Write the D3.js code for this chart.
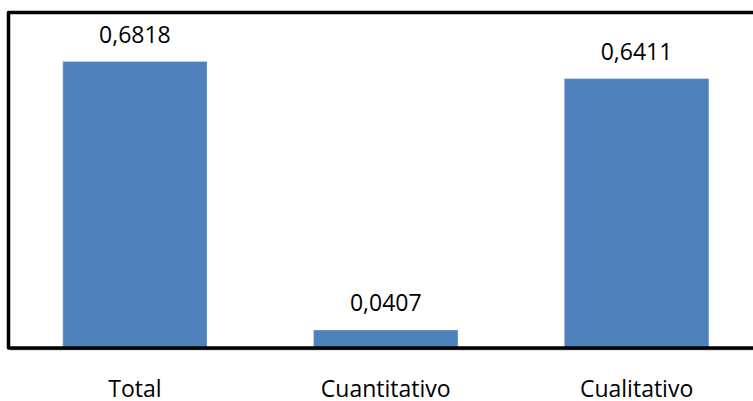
<!DOCTYPE html>
<html>
<head>
<meta charset="utf-8">
<script src="https://cdn.jsdelivr.net/npm/d3@7"></script>
<style>
  html, body { margin: 0; padding: 0; background: #fff; overflow: hidden; }
  svg { display: block; }
</style>
</head>
<body>
<svg id="chart" width="753" height="401"></svg>
<script>
// datos
const categories = ["Total", "Cuantitativo", "Cualitativo"];
const values = [0.6818, 0.0407, 0.6411];
const yDomain = [0, 0.8];

const width = 753, height = 401;
const margin = { top: 12.5, right: -9, bottom: 53.5, left: 9.5 };

const svg = d3.select("#chart");
const g = svg.append("g");

const x = d3.scaleBand()
    .domain(categories)
    .range([margin.left, width - margin.right])
    .paddingInner(0.428)
    .paddingOuter(0.214);

const y = d3.scaleLinear()
    .domain(yDomain)
    .range([height - margin.bottom, margin.top]);

const data = categories.map((c, i) => ({ name: c, value: values[i] }));
const fmt = v => d3.format(".4f")(v).replace(".", ",");

// barras
g.selectAll("rect.bar")
    .data(data)
    .enter()
    .append("rect")
    .attr("class", "bar")
    .attr("x", d => x(d.name))
    .attr("y", d => y(d.value))
    .attr("width", x.bandwidth())
    .attr("height", d => y(0) - y(d.value))
    .attr("fill", "#4f81bd")
    .attr("stroke", "#5b8ac2")
    .attr("stroke-width", 0.8);

// etiquetas de valor
g.selectAll("text.value")
    .data(data)
    .enter()
    .append("text")
    .attr("class", "value")
    .attr("x", d => x(d.name) + x.bandwidth() / 2)
    .attr("y", d => y(d.value) - 19)
    .attr("text-anchor", "middle")
    .attr("font-family", "'Open Sans', sans-serif")
    .attr("font-size", "23px")
    .attr("fill", "#000")
    .text(d => fmt(d.value));

// eje x (linea gris) y categorias
const xAxis = g.append("g")
    .attr("transform", `translate(0,${y(0) + 2})`)
    .call(d3.axisBottom(x).tickSize(0).tickPadding(31));
xAxis.select(".domain")
    .attr("stroke", "#868686")
    .attr("stroke-width", 1.5)
    .attr("d", `M${margin.left},0H${width + 20}`);
xAxis.selectAll("text")
    .attr("font-family", "'Open Sans', sans-serif")
    .attr("font-size", "23px")
    .attr("fill", "#000");

// borde del area de trazado
g.append("path")
    .attr("d", `M${width + 20},${y(yDomain[1])}H${margin.left - 1}V${y(0) + 0.5}H${width + 20}`)
    .attr("fill", "none")
    .attr("stroke", "#000")
    .attr("stroke-width", 3.5)
    .attr("stroke-linejoin", "round");
</script>
</body>
</html>
